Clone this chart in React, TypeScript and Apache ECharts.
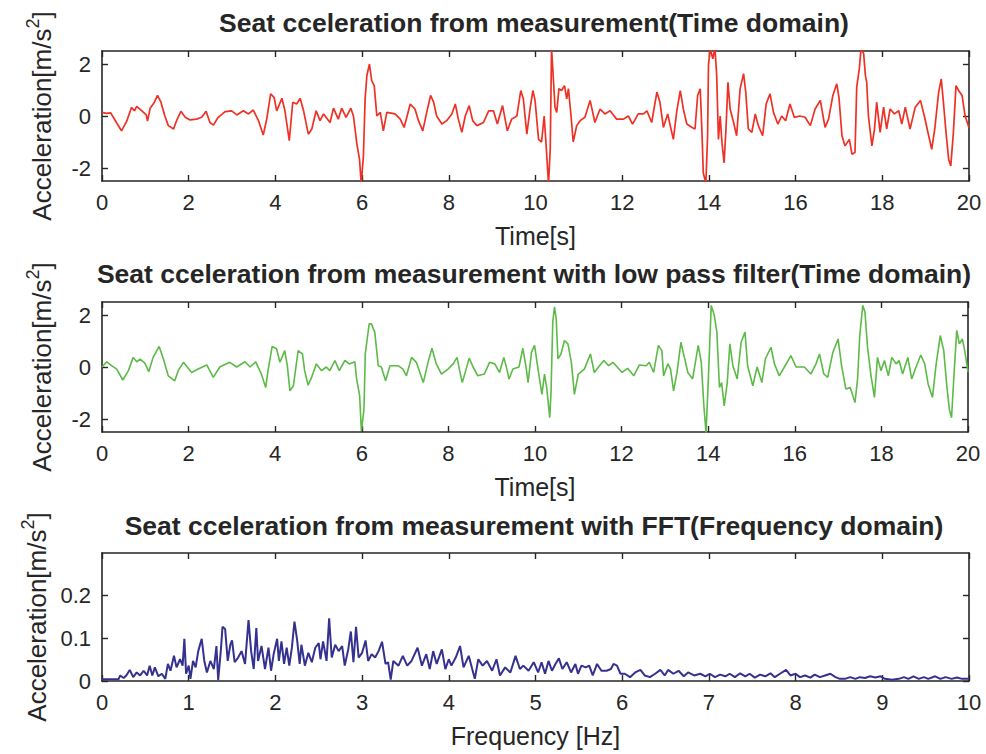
import { useEffect, useRef } from 'react';
import * as echarts from 'echarts';

// ---- Seat acceleration from measurement (time domain) ----
const redTime = [0,0.1,0.2,0.26,0.35,0.45,0.57,0.68,0.75,0.8,0.92,1.02,1.05,1.11,1.21,1.28,1.36,1.45,1.53,1.65,1.72,1.82,1.92,2.03,2.18,2.3,2.4,2.49,2.57,2.68,2.84,2.99,3.11,3.26,3.38,3.49,3.61,3.72,3.8,3.89,3.97,4.03,4.15,4.22,4.32,4.4,4.49,4.57,4.65,4.76,4.84,4.94,5.03,5.11,5.26,5.34,5.45,5.53,5.63,5.74,5.8,5.88,5.94,5.98,6.03,6.07,6.11,6.17,6.22,6.28,6.34,6.42,6.49,6.57,6.76,6.88,6.97,7.11,7.22,7.3,7.4,7.49,7.58,7.65,7.72,7.84,7.95,8.07,8.15,8.22,8.3,8.38,8.47,8.55,8.65,8.8,8.92,9.03,9.12,9.24,9.35,9.45,9.57,9.66,9.72,9.8,9.88,9.94,9.99,10.07,10.14,10.2,10.24,10.3,10.34,10.37,10.41,10.45,10.49,10.54,10.6,10.67,10.72,10.76,10.82,10.87,10.95,11.03,11.14,11.26,11.37,11.49,11.6,11.72,11.87,12.03,12.14,12.24,12.37,12.49,12.57,12.68,12.8,12.87,12.95,13.05,13.1,13.18,13.26,13.34,13.41,13.49,13.61,13.68,13.74,13.8,13.84,13.87,13.93,13.97,13.99,14.03,14.09,14.14,14.18,14.22,14.26,14.3,14.35,14.39,14.44,14.49,14.57,14.64,14.72,14.8,14.85,14.91,14.99,15.07,15.14,15.24,15.32,15.41,15.49,15.59,15.68,15.77,15.87,15.97,16.1,16.22,16.34,16.45,16.57,16.68,16.76,16.86,16.95,17.0,17.07,17.14,17.24,17.3,17.37,17.41,17.47,17.51,17.57,17.61,17.64,17.68,17.76,17.82,17.87,17.95,18.03,18.1,18.18,18.28,18.38,18.45,18.53,18.64,18.76,18.88,18.97,19.07,19.14,19.21,19.3,19.36,19.41,19.47,19.53,19.58,19.64,19.7,19.76,19.84,19.91,20.0];
const redAcc = [0.14,0.1,0.12,-0.05,-0.3,-0.57,-0.2,0.33,0.2,0.37,0.2,0.04,-0.2,0.3,0.53,0.79,0.53,0,-0.37,-0.5,-0.18,0.18,-0.05,-0.15,-0.12,-0.05,0.18,-0.25,-0.35,-0.05,0.17,0.2,0.04,0.2,0.08,0.23,-0.18,-0.73,-0.12,0.85,0.72,0.2,0.68,0.2,-0.95,0.53,0.46,0.68,0.2,-0.7,-0.5,0.2,-0.18,0.08,-0.25,0.3,-0.12,0.3,-0.05,0.3,0,-1.08,-1.66,-2.6,-1.54,0.66,1.56,2.0,1.37,1.17,0,0.14,-0.57,0.14,0.08,-0.12,-0.44,0.46,0.27,-0.18,-0.57,0.14,0.79,0.53,0,-0.31,-0.18,0.08,0.46,-0.12,-0.63,0,0.4,-0.18,-0.37,-0.25,0.2,0.2,-0.31,0.4,-0.57,-0.12,0,0.98,0.66,-0.7,0.34,0.98,0.6,-0.9,-1.0,0,-1.0,-2.6,-1.28,2.6,1.5,0.34,0.14,1.05,0.98,1.17,0.66,1.05,0,-1.0,-0.37,-0.18,-0.05,0.6,-0.25,0.27,0.08,0.2,-0.12,-0.12,0,-0.31,0.08,0.08,0.2,-0.25,0.92,0.53,-0.44,0.08,-0.31,-0.9,0.2,0.98,0.27,-0.31,-0.44,-0.5,0.79,1.05,-0.63,-2.18,-2.6,-0.76,1.95,2.6,2.2,2.6,1.56,-0.9,0,-1.0,-1.8,-0.63,1.3,0.27,-0.25,-0.76,1.05,1.63,0.92,-0.5,-0.63,0.08,-0.37,-0.76,0.46,0.85,0.14,-0.31,0,-0.18,0.46,-0.05,0,-0.05,-0.37,0.27,0.6,-0.44,-0.12,0.79,1.24,0.72,-0.76,-1.15,-0.9,-1.47,-1.4,1.11,1.82,2.6,2.4,1.56,1.3,0,-1.15,-0.5,0.53,-0.63,0.34,-0.5,0.27,0.08,0.2,-0.31,0.34,-0.5,0.34,0.6,0,-0.76,-1.28,-0.5,0.92,1.43,0.53,-0.63,-1.66,-1.92,-0.63,1.17,0.98,0.79,0,-0.44];

// ---- with low pass filter (time domain) ----
const greenTime = [0,0.11,0.22,0.34,0.48,0.61,0.72,0.8,0.88,0.99,1.08,1.18,1.32,1.42,1.53,1.68,1.76,1.88,2.07,2.22,2.42,2.57,2.72,2.95,3.11,3.3,3.42,3.55,3.68,3.78,3.84,3.93,4.03,4.11,4.22,4.28,4.34,4.42,4.53,4.63,4.68,4.76,4.84,4.95,5.07,5.18,5.26,5.38,5.48,5.61,5.71,5.84,5.88,5.95,5.99,6.05,6.08,6.17,6.22,6.3,6.38,6.45,6.55,6.65,6.84,6.95,7.03,7.15,7.26,7.42,7.53,7.62,7.72,7.84,7.99,8.11,8.2,8.26,8.32,8.4,8.48,8.57,8.68,8.83,8.95,9.07,9.18,9.28,9.35,9.4,9.49,9.63,9.72,9.8,9.84,9.92,9.99,10.07,10.16,10.22,10.27,10.34,10.37,10.41,10.45,10.49,10.53,10.6,10.68,10.76,10.84,10.91,11.0,11.14,11.28,11.37,11.49,11.59,11.7,11.8,12.01,12.14,12.28,12.41,12.57,12.64,12.74,12.85,12.93,12.97,13.07,13.13,13.2,13.28,13.37,13.45,13.53,13.64,13.77,13.84,13.9,13.95,14.0,14.07,14.14,14.2,14.26,14.31,14.37,14.44,14.5,14.57,14.67,14.76,14.85,14.91,15.03,15.13,15.24,15.32,15.45,15.53,15.64,15.76,15.91,16.03,16.22,16.37,16.49,16.57,16.67,16.76,16.88,17.0,17.08,17.18,17.28,17.39,17.45,17.5,17.57,17.62,17.68,17.76,17.84,17.91,17.99,18.07,18.16,18.24,18.34,18.41,18.49,18.61,18.7,18.8,18.91,19.0,19.08,19.18,19.26,19.36,19.44,19.51,19.57,19.62,19.68,19.74,19.8,19.87,19.93,20.0];
const greenAcc = [0,0.2,0.05,-0.08,-0.5,-0.14,0.37,0.2,0.3,0.15,-0.18,0.37,0.79,0.3,-0.34,-0.53,-0.14,0.18,-0.21,-0.08,0.08,-0.4,0,0.18,0,0.2,0,0.2,-0.27,-0.79,-0.08,0.79,0.7,0.18,0.63,0.05,-0.92,-0.72,0.63,0.5,-0.14,-0.7,-0.4,0.12,-0.14,0,-0.14,0.25,-0.14,0.25,0.12,0.2,-0.46,-1.1,-2.46,-1.63,0.5,1.66,1.66,1.34,0.05,0,-0.53,0.05,0.05,-0.08,-0.34,0.37,0.18,-0.6,0.18,0.72,0.12,-0.27,-0.08,0.12,0.37,-0.14,-0.6,-0.14,0.34,0,-0.34,-0.27,0.18,0.12,-0.21,0.37,-0.08,-0.46,-0.08,0,0.72,-0.08,-0.6,0.57,0.83,-0.08,-1.05,-0.27,-0.79,-1.95,-0.98,1.73,2.31,1.86,0.31,0.5,1.02,0.89,0.18,-1.05,-0.27,-0.08,0.5,-0.21,0.05,0.25,0.05,0.18,-0.21,-0.05,-0.34,0.08,0.05,0.18,-0.21,0.83,0.63,-0.34,0.12,-0.08,-0.92,-0.21,0.95,0.37,-0.21,-0.46,0.83,0.18,-1.5,-2.53,-0.6,2.37,1.99,1.34,-0.79,-0.6,-1.5,-0.6,0.89,0.05,-0.46,0.95,1.34,0.05,-0.72,0,-0.6,0.31,0.76,0.12,-0.34,0,0.44,0,0,-0.27,0.12,0.5,-0.27,-0.4,0.57,1.08,0.05,-0.85,-0.79,-1.37,-0.46,1.21,2.37,2.12,0.76,-0.34,-1.17,0.37,-0.14,0.25,-0.34,0.37,0.12,0.25,-0.27,0.37,-0.46,0,0.46,0.12,-0.66,-1.17,0.05,1.21,0.63,-0.72,-1.63,-1.95,-0.21,1.41,0.89,1.08,0.57,-0.2];

// ---- with FFT (frequency domain) ----
const fftFreq = [0,0.1,0.19,0.21,0.25,0.28,0.32,0.36,0.4,0.44,0.48,0.52,0.55,0.58,0.61,0.65,0.69,0.73,0.76,0.79,0.83,0.86,0.9,0.93,0.95,0.97,1.0,1.02,1.05,1.08,1.11,1.15,1.18,1.21,1.25,1.29,1.32,1.34,1.37,1.39,1.42,1.45,1.48,1.5,1.53,1.57,1.61,1.65,1.69,1.72,1.75,1.78,1.8,1.84,1.88,1.92,1.95,1.98,2.02,2.04,2.07,2.1,2.13,2.16,2.19,2.22,2.25,2.28,2.3,2.34,2.38,2.42,2.46,2.5,2.52,2.55,2.59,2.62,2.65,2.69,2.73,2.77,2.8,2.84,2.87,2.9,2.93,2.96,3.0,3.04,3.07,3.11,3.15,3.19,3.23,3.27,3.3,3.33,3.36,3.42,3.47,3.52,3.57,3.64,3.69,3.74,3.78,3.82,3.86,3.92,3.96,4.0,4.03,4.08,4.13,4.17,4.23,4.27,4.3,4.34,4.39,4.44,4.5,4.55,4.59,4.65,4.71,4.77,4.82,4.86,4.92,4.98,5.03,5.07,5.11,5.15,5.19,5.23,5.27,5.31,5.36,5.41,5.46,5.49,5.53,5.58,5.62,5.66,5.71,5.76,5.82,5.87,5.9,5.94,5.98,6.03,6.09,6.15,6.21,6.26,6.32,6.38,6.44,6.49,6.53,6.59,6.65,6.71,6.76,6.83,6.9,6.96,7.01,7.07,7.13,7.19,7.24,7.3,7.36,7.42,7.47,7.53,7.59,7.65,7.71,7.76,7.82,7.89,7.94,8.0,8.05,8.11,8.17,8.22,8.28,8.34,8.4,8.46,8.51,8.57,8.63,8.69,8.74,8.8,8.86,8.92,8.98,9.03,9.11,9.19,9.25,9.3,9.36,9.42,9.48,9.53,9.61,9.67,9.73,9.8,9.86,9.92,10.0];
const fftAmp = [0.004,0.004,0.004,0.013,0.007,0.013,0.026,0.009,0.02,0.013,0.024,0.013,0.036,0.013,0.032,0.011,0.017,0.005,0.04,0.024,0.059,0.032,0.051,0.036,0.099,0.017,0.036,0.005,0.047,0.032,0.07,0.099,0.047,0.02,0.047,0.028,0.082,0.002,0.07,0.127,0.122,0.047,0.085,0.095,0.044,0.055,0.07,0.04,0.143,0.07,0.028,0.124,0.047,0.082,0.028,0.078,0.024,0.063,0.099,0.047,0.093,0.04,0.078,0.036,0.078,0.139,0.097,0.04,0.085,0.036,0.066,0.044,0.078,0.089,0.051,0.093,0.047,0.147,0.055,0.085,0.07,0.082,0.036,0.074,0.116,0.044,0.127,0.055,0.066,0.095,0.047,0.063,0.055,0.07,0.092,0.04,0.044,0.003,0.047,0.036,0.059,0.036,0.047,0.078,0.036,0.063,0.028,0.07,0.04,0.074,0.028,0.051,0.036,0.055,0.082,0.032,0.059,0.028,0.005,0.051,0.036,0.047,0.024,0.051,0.013,0.032,0.02,0.059,0.028,0.036,0.024,0.044,0.02,0.044,0.017,0.047,0.024,0.04,0.053,0.028,0.044,0.02,0.04,0.017,0.036,0.032,0.036,0.013,0.04,0.024,0.024,0.028,0.04,0.036,0.017,0.017,0.009,0.02,0.026,0.013,0.009,0.017,0.026,0.013,0.026,0.017,0.024,0.011,0.02,0.013,0.017,0.011,0.017,0.009,0.015,0.011,0.017,0.009,0.018,0.011,0.017,0.008,0.015,0.011,0.018,0.009,0.017,0.026,0.013,0.017,0.009,0.013,0.008,0.015,0.009,0.013,0.017,0.009,0.005,0.005,0.009,0.005,0.009,0.007,0.011,0.008,0.011,0.005,0.003,0.005,0.009,0.005,0.011,0.005,0.009,0.005,0.011,0.005,0.009,0.005,0.008,0.005,0.005];

const timeTicks = [-2, 0, 2];
const freqAmpTicks = [0, 0.1, 0.2];

const titles = [
  'Seat cceleration from measurement(Time domain)',
  'Seat cceleration from measurement with low pass filter(Time domain)',
  'Seat cceleration from measurement with FFT(Frequency domain)',
];

const FONT = '"Liberation Sans", Arial, Helvetica, sans-serif';
const INK = '#262626';

function pairs(xs: number[], ys: number[]) {
  return xs.map((x, i) => [x, ys[i]]);
}

export default function App() {
  const ref = useRef<HTMLDivElement>(null);
  useEffect(() => {
    const chart = echarts.init(ref.current!, null, { renderer: 'svg' });
    const grids = [
      { left: 102, top: 51, width: 867, height: 130 },
      { left: 102, top: 302, width: 866, height: 130 },
      { left: 102, top: 553, width: 867, height: 128 },
    ];
    const lineStyle = { color: INK, width: 1.6 };
    const tick = { show: true, inside: true, length: 6, lineStyle: { color: INK, width: 1.4 } };
    const xNames = ['Time[s]', 'Time[s]', 'Frequency [Hz]'];
    const xRange = [
      { min: 0, max: 20, interval: 2 },
      { min: 0, max: 20, interval: 2 },
      { min: 0, max: 10, interval: 1 },
    ];
    const yRange = [
      { min: -2.5, max: 2.5, ticks: timeTicks },
      { min: -2.5, max: 2.5, ticks: timeTicks },
      { min: 0, max: 0.3, ticks: freqAmpTicks },
    ];
    const xAxis: any[] = [];
    const yAxis: any[] = [];
    grids.forEach((_, g) => {
      xAxis.push({
        type: 'value', gridIndex: g, position: 'bottom', ...xRange[g],
        axisLine: { show: true, onZero: false, lineStyle },
        axisTick: tick,
        splitLine: { show: false },
        axisLabel: { fontSize: 22, color: INK, fontFamily: FONT, margin: 10 },
        name: xNames[g], nameLocation: 'middle', nameGap: 42,
        nameTextStyle: { fontSize: 25, color: INK, fontFamily: FONT },
      });
      xAxis.push({
        type: 'value', gridIndex: g, position: 'top', ...xRange[g],
        axisLine: { show: true, onZero: false, lineStyle },
        axisTick: tick,
        splitLine: { show: false },
        axisLabel: { show: false },
      });
      const yr = yRange[g];
      yAxis.push({
        type: 'value', gridIndex: g, position: 'left', min: yr.min, max: yr.max,
        axisLine: { show: true, onZero: false, lineStyle },
        axisTick: { ...tick, customValues: yr.ticks },
        splitLine: { show: false },
        axisLabel: { fontSize: 22, color: INK, fontFamily: FONT, margin: 11, customValues: yr.ticks },
        name: '{a|Acceleration[m/s}{s|2}{a|]}', nameLocation: 'middle', nameGap: 47, nameRotate: 90,
        nameTextStyle: {
          fontFamily: FONT, color: INK,
          rich: {
            a: { fontSize: 26, fontFamily: FONT, color: INK, lineHeight: 31, verticalAlign: 'bottom' },
            s: { fontSize: 18, fontFamily: FONT, color: INK, lineHeight: 31, verticalAlign: 'top' },
          },
        },
      });
      yAxis.push({
        type: 'value', gridIndex: g, position: 'right', min: yr.min, max: yr.max,
        axisLine: { show: true, onZero: false, lineStyle },
        axisTick: { ...tick, customValues: yr.ticks },
        splitLine: { show: false },
        axisLabel: { show: false },
      });
    });
    const titleY = [22.5, 273.7, 526];
    chart.setOption({
      animation: false,
      backgroundColor: '#ffffff',
      grid: grids,
      xAxis,
      yAxis,
      graphic: titles.map((t, i) => ({
        type: 'text', x: 534, y: titleY[i],
        style: { text: t, fontSize: 26.5, fontWeight: 'bold', fontFamily: FONT, fill: INK, textAlign: 'center', textVerticalAlign: 'middle' },
      })),
      series: [
        { type: 'line', xAxisIndex: 0, yAxisIndex: 0, data: pairs(redTime, redAcc), showSymbol: false, lineStyle: { color: '#ee3124', width: 1.7 } },
        { type: 'line', xAxisIndex: 2, yAxisIndex: 2, data: pairs(greenTime, greenAcc), showSymbol: false, lineStyle: { color: '#5cba47', width: 1.6 } },
        { type: 'line', xAxisIndex: 4, yAxisIndex: 4, data: pairs(fftFreq, fftAmp), showSymbol: false, lineStyle: { color: '#35318f', width: 2 } },
      ],
    });
    return () => chart.dispose();
  }, []);
  return <div ref={ref} style={{ position: 'absolute', left: 0, top: 0, width: 986, height: 754 }} />;
}
